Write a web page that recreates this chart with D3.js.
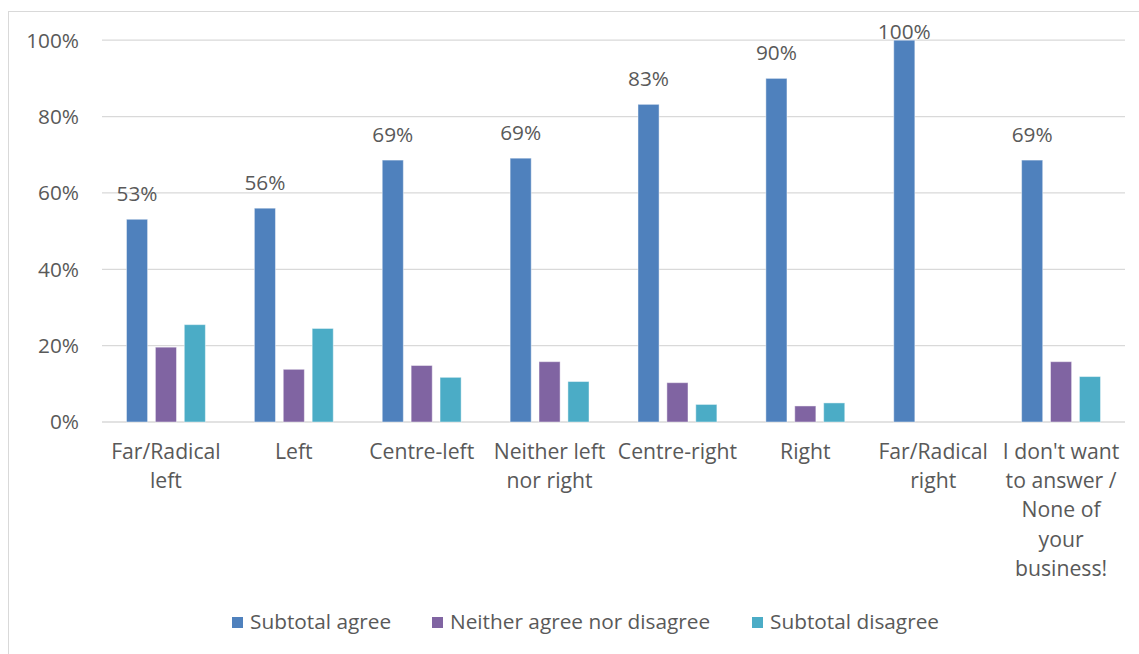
<!DOCTYPE html>
<html><head><meta charset="utf-8">
<script src="https://cdn.jsdelivr.net/npm/d3@7"></script>
<style>body{margin:0;background:#fff}svg{display:block}text{font-family:"Open Sans",sans-serif;fill:#595959}</style>
</head><body><svg id="c" width="1139" height="654"></svg>
<script>
const categories = ["Far/Radical\nleft","Left","Centre-left","Neither left\nnor right","Centre-right","Right","Far/Radical\nright","I don't want\nto answer /\nNone of\nyour\nbusiness!"];
const seriesNames = ["Subtotal agree","Neither agree nor disagree","Subtotal disagree"];
const subtotalAgree = [53.1, 56.0, 68.6, 69.1, 83.2, 90.0, 100, 68.6];
const neither = [19.6, 13.8, 14.8, 15.8, 10.3, 4.2, 0, 15.8];
const subtotalDisagree = [25.5, 24.5, 11.7, 10.6, 4.6, 5.0, 0, 11.9];
const yTicks = [0, 20, 40, 60, 80, 100];
const colors = ["#4f81bd", "#8064a2", "#4bacc6"];

const svg = d3.select("#c");
svg.append("rect").attr("x",8.5).attr("y",11.5).attr("width",1140).attr("height",660)
  .attr("fill","#fff").attr("stroke","#d9d9d9");

const m = {l:102, r:1125, t:40.2, b:422};
const x = d3.scaleBand().domain(d3.range(categories.length)).range([m.l, m.r]).paddingInner(0.383).paddingOuter(0.1915);
const xs = d3.scaleBand().domain(d3.range(3)).range([0, x.bandwidth()]).paddingInner(0.27);
const y = d3.scaleLinear().domain([0,100]).range([m.b, m.t]);

// gridlines
svg.append("g").selectAll("line").data(yTicks).join("line")
  .attr("x1", m.l).attr("x2", m.r).attr("y1", d=>y(d)).attr("y2", d=>y(d))
  .attr("stroke", "#d9d9d9").attr("stroke-width", d=> d===0 ? 1.5 : 1.2);

// y tick labels
svg.append("g").selectAll("text").data(yTicks).join("text")
  .attr("x", 79).attr("y", d=>y(d)).attr("dy","0.36em").attr("text-anchor","end")
  .attr("font-size",20.8).text(d=>d+"%");

const series = [subtotalAgree, neither, subtotalDisagree];
series.forEach((vals, si)=>{
  svg.append("g").selectAll("rect").data(vals).join("rect")
    .attr("x", (d,i)=> x(i) + xs(si)).attr("width", xs.bandwidth())
    .attr("y", d=>y(d)).attr("height", d=> y(0)-y(d))
    .attr("fill", colors[si]).attr("stroke", d=> d>0 ? "rgba(255,255,255,0.45)" : "none").attr("stroke-width",1);
});

// data labels for agree
svg.append("g").selectAll("text").data(subtotalAgree).join("text")
  .attr("x", (d,i)=> x(i) + xs(0) + xs.bandwidth()/2)
  .attr("y", d=> Math.max(y(d) - 18, y(100) - 1))
  .attr("text-anchor","middle").attr("font-size",20.8).attr("fill","#404040")
  .text(d=> Math.round(d)+"%");

// category labels
const cl = svg.append("g").selectAll("text").data(categories).join("text")
  .attr("x", (d,i)=> x(i) + x.bandwidth()/2).attr("y", 459)
  .attr("text-anchor","middle").attr("font-size",21.2);
cl.each(function(d){
  const t = d3.select(this);
  d.split("\n").forEach((ln, k)=>{
    t.append("tspan").attr("x", t.attr("x")).attr("dy", k===0 ? 0 : 29.2).text(ln);
  });
});

// legend
const legX = [232, 432, 752];
const lg = svg.append("g").selectAll("g").data(seriesNames).join("g")
  .attr("transform", (d,i)=>`translate(${legX[i]},617)`);
lg.append("rect").attr("width",11).attr("height",11).attr("fill",(d,i)=>colors[i]);
lg.append("text").attr("x",18).attr("y",12).attr("font-size",20.8).text(d=>d);
</script></body></html>
